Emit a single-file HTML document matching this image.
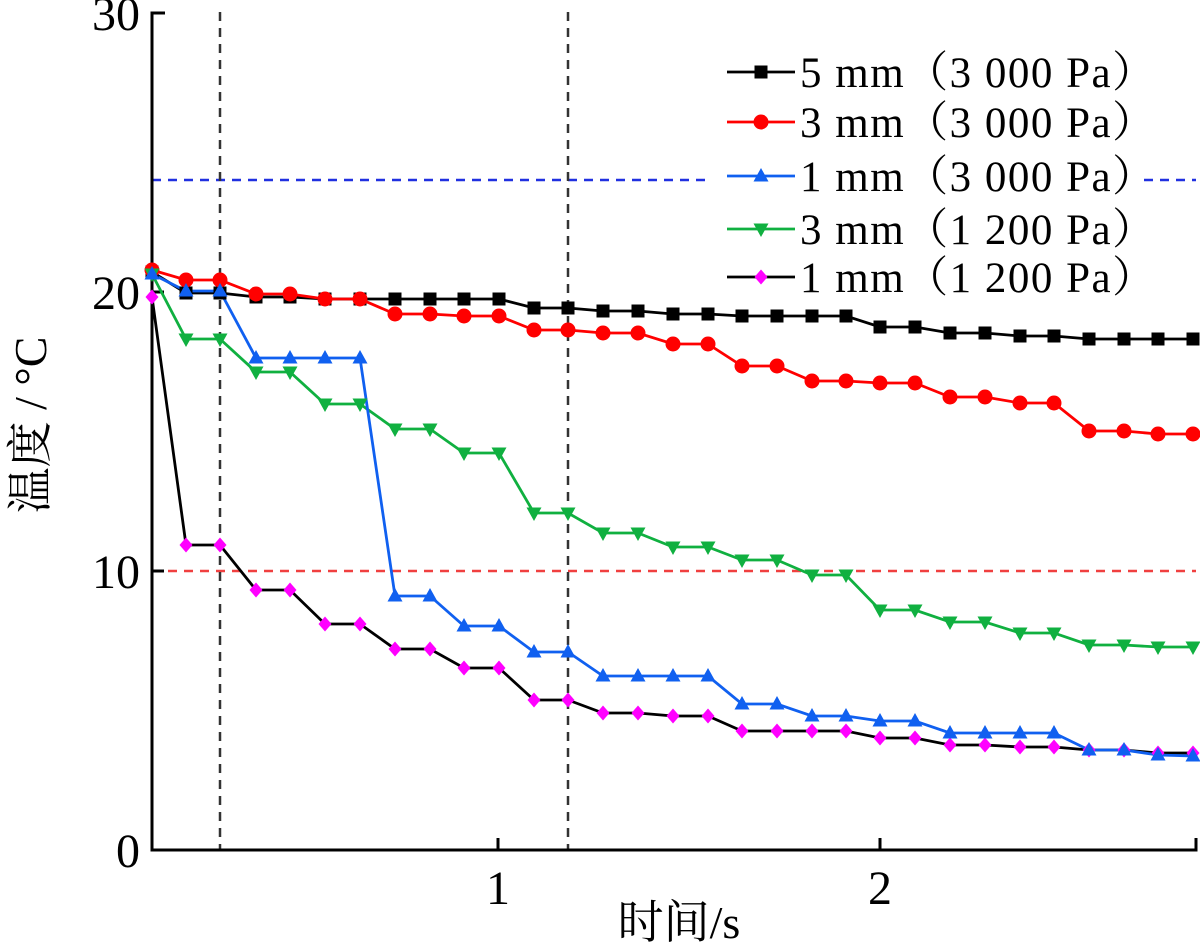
<!DOCTYPE html>
<html><head><meta charset="utf-8"><style>body{margin:0;background:#fff}svg{display:block}</style></head><body>
<svg width="1200" height="943" xmlns="http://www.w3.org/2000/svg" font-family="'Liberation Serif','Noto Serif CJK SC',serif">
<defs>
<rect id="sq" x="-6.5" y="-6.5" width="13" height="13" fill="#000"/>
<circle id="ci" r="7.5" fill="#f00"/>
<path id="tri" d="M0,-8 L7.5,5.5 L-7.5,5.5Z" fill="#1060f0"/>
<path id="itri" d="M0,8 L7.5,-5.5 L-7.5,-5.5Z" fill="#10b040"/>
<path id="dia" d="M0,-7.5 L6.5,0 L0,7.5 L-6.5,0Z" fill="#f0f"/>
</defs>
<g stroke-dasharray="9,7" stroke-width="2.5">
<line x1="152" y1="180" x2="1196" y2="180" stroke="#2030e0"/>
<line x1="152" y1="571" x2="1196" y2="571" stroke="#f04040"/>
<line x1="220" y1="12" x2="220" y2="850" stroke="#333"/>
<line x1="568" y1="12" x2="568" y2="850" stroke="#333"/>
</g>
<g fill="none" stroke="#000" stroke-width="3">
<path d="M165,13 H152 V850 H1196 V838"/>
<line x1="152" y1="292" x2="164" y2="292"/><line x1="152" y1="571" x2="164" y2="571"/>
<line x1="498" y1="850" x2="498" y2="838"/><line x1="880" y1="850" x2="880" y2="838"/>
</g>
<g font-size="48" text-anchor="end"><text x="140" y="30">30</text><text x="140" y="309">20</text><text x="140" y="588">10</text><text x="140" y="867">0</text></g>
<g font-size="48" text-anchor="middle"><text x="498" y="904">1</text><text x="880" y="904">2</text></g>
<text x="679" y="938" font-size="46" text-anchor="middle">时间/s</text>
<text transform="translate(46,425) rotate(-90)" font-size="46" text-anchor="middle">温度 / °C</text>

<g fill="none" stroke-width="2.8">
<polyline stroke="#000" points="152,272 186,293 220,293 256,297 290,297 325,299 360,299 395,299 430,299 464,299 499,299 534,308 568,308 603,311 638,311 673,314 708,314 742,316 777,316 812,316 846,316 880,327 915,327 950,333 985,333 1020,336 1054,336 1089,339 1124,339 1158,339 1193,339"/>
<polyline stroke="#f00" points="152,270 186,280 220,280 256,294 290,294 325,299 360,299 395,314 430,314 464,316 499,316 534,330 568,330 603,333 638,333 673,344 708,344 742,366 777,366 812,381 846,381 880,383 915,383 950,397 985,397 1020,403 1054,403 1089,431 1124,431 1158,434 1193,434"/>
<polyline stroke="#000" points="152,297 186,545 220,545 256,590 290,590 325,624 360,624 395,649 430,649 464,668 499,668 534,700 568,700 603,713 638,713 673,716 708,716 742,731 777,731 812,731 846,731 880,738 915,738 950,745 985,745 1020,747 1054,747 1089,750 1124,750 1158,753 1193,753"/>
<polyline stroke="#10b040" points="152,274 186,339 220,339 256,372 290,372 325,404 360,404 395,429 430,429 464,453 499,453 534,513 568,513 603,533 638,533 673,547 708,547 742,560 777,560 812,575 846,575 880,610 915,610 950,622 985,622 1020,633 1054,633 1089,645 1124,645 1158,647 1193,647"/>
<polyline stroke="#1060f0" points="152,274 186,291 220,291 256,358 290,358 325,358 360,358 395,596 430,596 464,626 499,626 534,652 568,652 603,676 638,676 673,676 708,676 742,704 777,704 812,716 846,716 880,721 915,721 950,733 985,733 1020,733 1054,733 1089,750 1124,750 1158,755 1193,756"/>
</g>
<g>
<use href="#sq" x="152" y="272"/><use href="#sq" x="186" y="293"/><use href="#sq" x="220" y="293"/><use href="#sq" x="256" y="297"/><use href="#sq" x="290" y="297"/><use href="#sq" x="325" y="299"/><use href="#sq" x="360" y="299"/><use href="#sq" x="395" y="299"/><use href="#sq" x="430" y="299"/><use href="#sq" x="464" y="299"/><use href="#sq" x="499" y="299"/><use href="#sq" x="534" y="308"/><use href="#sq" x="568" y="308"/><use href="#sq" x="603" y="311"/><use href="#sq" x="638" y="311"/><use href="#sq" x="673" y="314"/><use href="#sq" x="708" y="314"/><use href="#sq" x="742" y="316"/><use href="#sq" x="777" y="316"/><use href="#sq" x="812" y="316"/><use href="#sq" x="846" y="316"/><use href="#sq" x="880" y="327"/><use href="#sq" x="915" y="327"/><use href="#sq" x="950" y="333"/><use href="#sq" x="985" y="333"/><use href="#sq" x="1020" y="336"/><use href="#sq" x="1054" y="336"/><use href="#sq" x="1089" y="339"/><use href="#sq" x="1124" y="339"/><use href="#sq" x="1158" y="339"/><use href="#sq" x="1193" y="339"/>
<use href="#ci" x="152" y="270"/><use href="#ci" x="186" y="280"/><use href="#ci" x="220" y="280"/><use href="#ci" x="256" y="294"/><use href="#ci" x="290" y="294"/><use href="#ci" x="325" y="299"/><use href="#ci" x="360" y="299"/><use href="#ci" x="395" y="314"/><use href="#ci" x="430" y="314"/><use href="#ci" x="464" y="316"/><use href="#ci" x="499" y="316"/><use href="#ci" x="534" y="330"/><use href="#ci" x="568" y="330"/><use href="#ci" x="603" y="333"/><use href="#ci" x="638" y="333"/><use href="#ci" x="673" y="344"/><use href="#ci" x="708" y="344"/><use href="#ci" x="742" y="366"/><use href="#ci" x="777" y="366"/><use href="#ci" x="812" y="381"/><use href="#ci" x="846" y="381"/><use href="#ci" x="880" y="383"/><use href="#ci" x="915" y="383"/><use href="#ci" x="950" y="397"/><use href="#ci" x="985" y="397"/><use href="#ci" x="1020" y="403"/><use href="#ci" x="1054" y="403"/><use href="#ci" x="1089" y="431"/><use href="#ci" x="1124" y="431"/><use href="#ci" x="1158" y="434"/><use href="#ci" x="1193" y="434"/>
<use href="#dia" x="152" y="297"/><use href="#dia" x="186" y="545"/><use href="#dia" x="220" y="545"/><use href="#dia" x="256" y="590"/><use href="#dia" x="290" y="590"/><use href="#dia" x="325" y="624"/><use href="#dia" x="360" y="624"/><use href="#dia" x="395" y="649"/><use href="#dia" x="430" y="649"/><use href="#dia" x="464" y="668"/><use href="#dia" x="499" y="668"/><use href="#dia" x="534" y="700"/><use href="#dia" x="568" y="700"/><use href="#dia" x="603" y="713"/><use href="#dia" x="638" y="713"/><use href="#dia" x="673" y="716"/><use href="#dia" x="708" y="716"/><use href="#dia" x="742" y="731"/><use href="#dia" x="777" y="731"/><use href="#dia" x="812" y="731"/><use href="#dia" x="846" y="731"/><use href="#dia" x="880" y="738"/><use href="#dia" x="915" y="738"/><use href="#dia" x="950" y="745"/><use href="#dia" x="985" y="745"/><use href="#dia" x="1020" y="747"/><use href="#dia" x="1054" y="747"/><use href="#dia" x="1089" y="750"/><use href="#dia" x="1124" y="750"/><use href="#dia" x="1158" y="753"/><use href="#dia" x="1193" y="753"/>
<use href="#itri" x="152" y="274"/><use href="#itri" x="186" y="339"/><use href="#itri" x="220" y="339"/><use href="#itri" x="256" y="372"/><use href="#itri" x="290" y="372"/><use href="#itri" x="325" y="404"/><use href="#itri" x="360" y="404"/><use href="#itri" x="395" y="429"/><use href="#itri" x="430" y="429"/><use href="#itri" x="464" y="453"/><use href="#itri" x="499" y="453"/><use href="#itri" x="534" y="513"/><use href="#itri" x="568" y="513"/><use href="#itri" x="603" y="533"/><use href="#itri" x="638" y="533"/><use href="#itri" x="673" y="547"/><use href="#itri" x="708" y="547"/><use href="#itri" x="742" y="560"/><use href="#itri" x="777" y="560"/><use href="#itri" x="812" y="575"/><use href="#itri" x="846" y="575"/><use href="#itri" x="880" y="610"/><use href="#itri" x="915" y="610"/><use href="#itri" x="950" y="622"/><use href="#itri" x="985" y="622"/><use href="#itri" x="1020" y="633"/><use href="#itri" x="1054" y="633"/><use href="#itri" x="1089" y="645"/><use href="#itri" x="1124" y="645"/><use href="#itri" x="1158" y="647"/><use href="#itri" x="1193" y="647"/>
<use href="#tri" x="152" y="274"/><use href="#tri" x="186" y="291"/><use href="#tri" x="220" y="291"/><use href="#tri" x="256" y="358"/><use href="#tri" x="290" y="358"/><use href="#tri" x="325" y="358"/><use href="#tri" x="360" y="358"/><use href="#tri" x="395" y="596"/><use href="#tri" x="430" y="596"/><use href="#tri" x="464" y="626"/><use href="#tri" x="499" y="626"/><use href="#tri" x="534" y="652"/><use href="#tri" x="568" y="652"/><use href="#tri" x="603" y="676"/><use href="#tri" x="638" y="676"/><use href="#tri" x="673" y="676"/><use href="#tri" x="708" y="676"/><use href="#tri" x="742" y="704"/><use href="#tri" x="777" y="704"/><use href="#tri" x="812" y="716"/><use href="#tri" x="846" y="716"/><use href="#tri" x="880" y="721"/><use href="#tri" x="915" y="721"/><use href="#tri" x="950" y="733"/><use href="#tri" x="985" y="733"/><use href="#tri" x="1020" y="733"/><use href="#tri" x="1054" y="733"/><use href="#tri" x="1089" y="750"/><use href="#tri" x="1124" y="750"/><use href="#tri" x="1158" y="755"/><use href="#tri" x="1193" y="756"/>
</g>

<rect x="712" y="50" width="426" height="250" fill="#fff"/>
<g font-size="43" letter-spacing="1.5">
<line x1="727" y1="72" x2="795" y2="72" stroke="#000" stroke-width="2.8"/><use href="#sq" x="761" y="72"/><text x="800" y="87">5 mm（3 000 Pa）</text>
<line x1="727" y1="122" x2="795" y2="122" stroke="#f00" stroke-width="2.8"/><use href="#ci" x="761" y="122"/><text x="800" y="137">3 mm（3 000 Pa）</text>
<line x1="727" y1="176" x2="795" y2="176" stroke="#1060f0" stroke-width="2.8"/><use href="#tri" x="761" y="176"/><text x="800" y="191">1 mm（3 000 Pa）</text>
<line x1="727" y1="229" x2="795" y2="229" stroke="#10b040" stroke-width="2.8"/><use href="#itri" x="761" y="229"/><text x="800" y="244">3 mm（1 200 Pa）</text>
<line x1="727" y1="277" x2="795" y2="277" stroke="#000" stroke-width="2.8"/><use href="#dia" x="761" y="277"/><text x="800" y="292">1 mm（1 200 Pa）</text>
</g>
</svg>
</body></html>
